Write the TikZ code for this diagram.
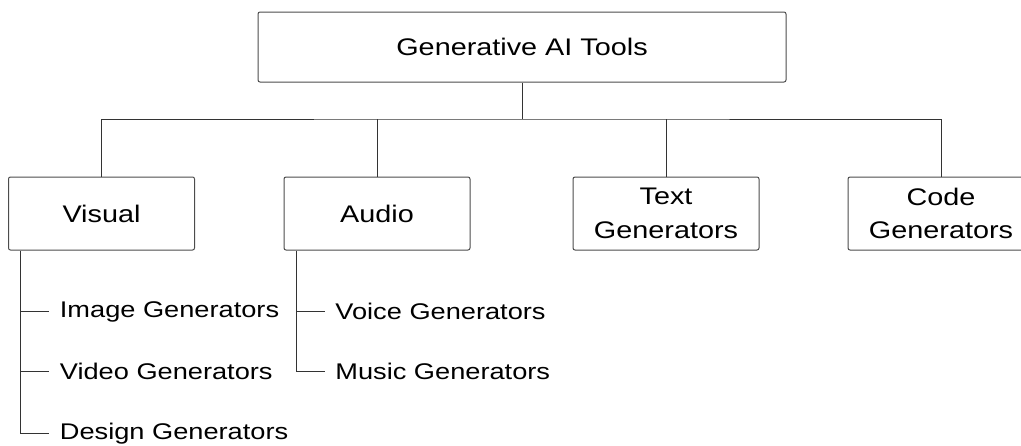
\documentclass[tikz,border=0pt]{standalone}
\usepackage{fontspec}
\setmainfont[FakeStretch=1.2]{Liberation Sans}
\usetikzlibrary{positioning,calc}

\begin{document}
\begin{tikzpicture}[
  x=0.75pt, y=-0.75pt,
  node distance=45pt,
  box/.style={draw=black!70, line width=0.75pt, rounded corners=1.5pt, inner sep=0pt, align=center, font=\fontsize{18}{25}\selectfont},
  rootbox/.style={box, minimum width=396pt, minimum height=52.5pt},
  catbox/.style={box, minimum width=139.5pt, minimum height=54.75pt},
  leaf/.style={anchor=west, inner xsep=8pt, inner ysep=0pt, font=\fontsize{17}{20}\selectfont},
  link/.style={draw=black!80, line width=0.75pt}
]
  \useasboundingbox (0,0) rectangle (1021,446);
  \clip (0,0) rectangle (1021,446);

  % top of the tree
  \node[rootbox] (root) at (522,47) {Generative AI Tools};
  \coordinate (bus) at (522,119);

  % the four groups
  \node[catbox] (visual) at (101.5,213.5) {Visual};
  \node[catbox] (audio)  at (377,213.5)   {Audio};
  \node[catbox] (text)   at (666,213.5)   {Text\\Generators};
  \node[catbox] (code)   at (941,213.5)   {Code\\Generators};

  \draw[link] (root.south) -- (bus);
  \draw[link] (visual.north) |- (bus) -| (code.north);
  \draw[link] (audio.north) -- (audio.north |- bus);
  \draw[link] (text.north) -- (text.north |- bus);

  % visual tools
  \coordinate (vtrunk) at ($(visual.south west)+(12,0)$);
  \node[leaf] (image)  at ($(vtrunk)+(29,61)$) {Image Generators};
  \node[leaf, below=of image.west, anchor=west] (video) {Video Generators};
  \node[leaf, below=46.5pt of video.west, anchor=west] (design) {Design Generators};

  \draw[link] (vtrunk) |- (design.west);
  \draw[link] (vtrunk |- image.west) -- (image.west);
  \draw[link] (vtrunk |- video.west) -- (video.west);

  % audio tools
  \coordinate (atrunk) at ($(audio.south west)+(13,0)$);
  \node[leaf] (voice) at ($(atrunk)+(28,61)$) {Voice Generators};
  \node[leaf, below=of voice.west, anchor=west] (music) {Music Generators};

  \draw[link] (atrunk) |- (music.west);
  \draw[link] (atrunk |- voice.west) -- (voice.west);
\end{tikzpicture}
\end{document}
